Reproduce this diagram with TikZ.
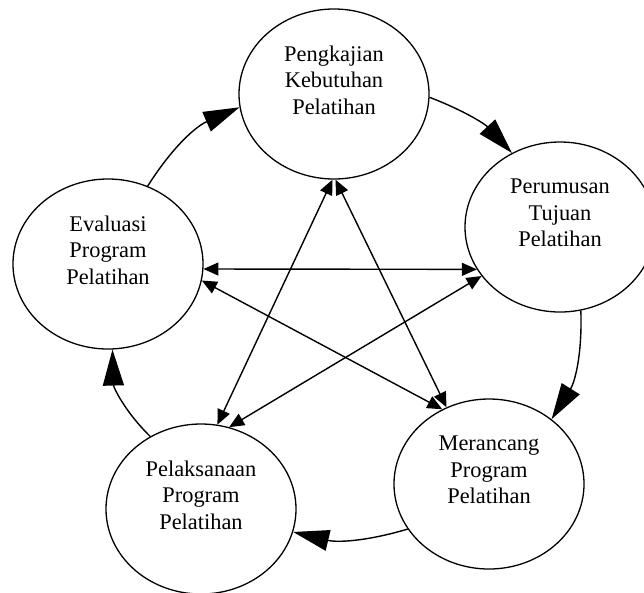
\documentclass[tikz,border=0pt]{standalone}
\usepackage{fontspec}
\setmainfont{Liberation Serif}
\usetikzlibrary{arrows.meta,shapes.geometric}

\begin{document}
\begin{tikzpicture}[x=1pt, y=-1pt,
  stage/.style={draw, line width=1.3pt, ellipse, minimum width=190pt, minimum height=170pt, inner sep=0pt},
  stagetext/.style={align=center, inner sep=0pt, font=\fontsize{22.4}{26.6}\selectfont},
  roundarrow/.style={line width=1.4pt, -{Triangle[length=36pt,width=21pt]}},
  crossarrow/.style={line width=1.4pt, {Triangle[length=15pt,width=13pt]}-{Triangle[length=15pt,width=13pt]}}]
\clip (0,0) rectangle (644,592);

% the five stages
\node[stage] (pk) at (334,94) {};
\node[stage] (pt) at (560,227) {};
\node[stage] (mp) at (489,484) {};
\node[stage] (pp) at (201,509) {};
\node[stage] (ep) at (108,264) {};

\node[stagetext] (pkText) at ([yshift=14pt]pk.center) {Pengkajian\\Kebutuhan\\Pelatihan};
\node[stagetext] (ptText) at ([yshift=14pt]pt.center) {Perumusan\\Tujuan\\Pelatihan};
\node[stagetext] (mpText) at ([yshift=14pt]mp.center) {Merancang\\Program\\Pelatihan};
\node[stagetext] (ppText) at ([yshift=14pt]pp.center) {Pelaksanaan\\Program\\Pelatihan};
\node[stagetext] (epText) at ([yshift=14pt]ep.center) {Evaluasi\\Program\\Pelatihan};

% outer cycle
\draw[roundarrow] (pk.-2) to[bend left=13] (pt.123);
\draw[roundarrow] (pt.-76) to[bend left=17] (mp.46);
\draw[roundarrow] (mp.209) to[bend left=15] (pp.-14);
\draw[roundarrow] (pp.125) to[bend left=22] (ep.-87);
\draw[roundarrow] (ep.63) to[bend left=17] (pk.188);

% inner star
\draw[crossarrow] (pk.-91) -- (pp.79);
\draw[crossarrow] (pk.-89) -- (mp.119);
\draw[crossarrow] (ep.-3) -- (pt.207);
\draw[crossarrow] (ep.-10) -- (mp.122);
\draw[crossarrow] (pp.71) -- (pt.212);

\end{tikzpicture}
\end{document}
